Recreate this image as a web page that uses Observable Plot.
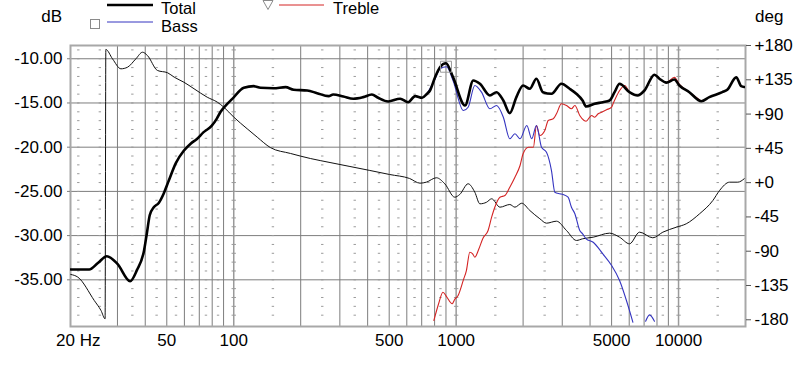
<!DOCTYPE html>
<html><head><meta charset="utf-8">
<script src="https://cdn.jsdelivr.net/npm/d3@7"></script>
<script src="https://cdn.jsdelivr.net/npm/@observablehq/plot@0.6"></script>
<style>
html,body{margin:0;padding:0;background:#fff;}
#wrap{position:relative;width:807px;height:372px;overflow:hidden;font-family:'Liberation Sans',Arial,sans-serif;}
#legend{position:absolute;left:0;top:0;pointer-events:none;}
</style></head><body><div id="wrap"></div>
<script>
// ---- data (frequency Hz, level dB) ----
const total = [[18.5,-33.83],[22.4,-33.83],[24.5,-33.1],[26.9,-32.33],[30,-33.2],[34.2,-35.16],[36.7,-33.9],[39.5,-31.7],[40.7,-29.7],[41.9,-27.7],[43.7,-26.8],[46,-26.3],[48.5,-25.2],[51,-23.8],[54.9,-21.8],[59.6,-20.4],[64,-19.6],[68.1,-19.1],[73.2,-18.3],[79.5,-17.6],[83.8,-16.8],[87.3,-16.0],[93.5,-15.1],[98,-14.6],[111,-13.28],[123,-13.1],[132,-13.28],[151,-13.33],[171,-13.21],[186,-13.51],[214,-13.59],[237,-13.89],[267,-14.23],[280,-14.04],[311,-14.26],[345,-14.52],[382,-14.34],[418,-14.04],[446,-14.41],[495,-14.83],[560,-14.52],[608,-14.91],[654,-14.23],[703,-14.41],[740,-13.96],[763,-13.59],[804,-12.08],[846,-10.95],[900,-10.5],[968,-12.08],[1096,-15.28],[1194,-12.45],[1279,-12.83],[1418,-14.15],[1519,-13.78],[1630,-14.72],[1743,-16.15],[1866,-14.34],[2000,-13.02],[2143,-13.39],[2296,-12.26],[2455,-13.78],[2683,-13.96],[2974,-12.83],[3239,-13.39],[3470,-13.96],[3703,-14.72],[3840,-15.4],[4193,-15.09],[4565,-14.91],[4896,-14.72],[5156,-13.78],[5430,-12.83],[6020,-13.78],[6539,-14.15],[7026,-13.59],[7792,-11.8],[8204,-12.26],[8820,-12.7],[9580,-12.35],[10088,-13.02],[11184,-13.78],[12659,-14.8],[13752,-14.34],[15726,-13.78],[16558,-13.5],[18168,-12.1],[19132,-13.1],[19734,-13.2]];

const bassMain = [[740,-13.96],[804,-12.3],[846,-11.13],[905,-10.9],[968,-12.45],[1078,-15.85],[1132,-15.48],[1213,-13.02],[1300,-13.78],[1418,-15.66],[1519,-15.28],[1630,-16.61],[1743,-19.05],[1838,-18.48],[1938,-19.05],[2078,-17.55],[2187,-19.05],[2296,-17.55],[2420,-20.0],[2548,-20.57],[2683,-22.64],[2778,-25.09],[2922,-25.27],[3026,-25.35],[3186,-25.66],[3300,-26.79],[3418,-27.53],[3596,-29.42],[3703,-29.8],[3840,-30.36],[4132,-30.75],[4565,-32.06],[5000,-33.38],[5430,-35.08],[5830,-37.34],[6234,-39.8]];
const bassTail = [[7112,-39.68],[7406,-38.96],[7792,-39.68]];

const treble = [[794,-39.6],[834,-37.71],[872,-36.4],[905,-36.9],[960,-37.71],[986,-37.2],[1019,-36.8],[1078,-35.0],[1112,-33.95],[1152,-31.88],[1186,-32.06],[1213,-32.44],[1266,-31.49],[1320,-30.3],[1392,-29.42],[1444,-27.92],[1492,-26.79],[1574,-25.66],[1657,-25.46],[1743,-24.52],[1838,-23.39],[1938,-22.07],[2000,-20.75],[2112,-20.0],[2225,-20.0],[2296,-17.55],[2378,-18.68],[2504,-18.11],[2594,-16.98],[2732,-16.79],[2826,-16.22],[2974,-15.09],[3134,-15.28],[3300,-15.66],[3418,-15.28],[3596,-16.41],[3760,-16.98],[3840,-17.06],[4066,-16.41],[4193,-16.61],[4352,-16.22],[4508,-16.04],[4744,-15.77],[5000,-15.48],[5077,-15.09],[5376,-13.78],[5732,-13.02],[6020,-13.78],[6539,-14.15],[7026,-13.59],[7792,-11.8],[8204,-12.26],[8820,-12.7],[9580,-12.1],[10088,-12.9],[11184,-13.78],[12659,-14.8]];

// phase (frequency Hz, degrees)
const phase = [[18.5,-120.5],[19.9,-124],[23.6,-154.7],[25.3,-167.8],[26.4,-178.7],[26.6,174.8],[28.5,162.5],[31.1,149.4],[33.3,151.5],[36.3,162.5],[38.9,171.2],[40.9,166.9],[45.4,147.2],[50.4,144.2],[54,138.4],[59.7,131.8],[66.3,123.2],[76,112.1],[84.4,105.6],[90.3,99],[100.1,85.9],[114.9,70.7],[127.5,59.7],[146,46.1],[180,38.3],[221,31.7],[271,26.4],[333,21.2],[409,16],[502,10.7],[617,5.5],[688,-0.7],[734,0.6],[815,6.4],[889,-1.5],[986,-19.1],[1038,-15.5],[1132,-1.5],[1213,-12.5],[1279,-27.8],[1370,-25.7],[1444,-21.2],[1574,-32.2],[1743,-28.7],[1838,-32.2],[1972,-27],[2143,-36.5],[2378,-47.4],[2548,-53.2],[2826,-50.6],[3134,-62.8],[3476,-75.9],[3703,-73.7],[4132,-71.6],[4896,-66.3],[5430,-71.6],[6020,-80.3],[6680,-65],[7660,-72.4],[8500,-65],[9770,-58.5],[10830,-54],[12430,-40.9],[14270,-23.4],[15290,-10.3],[16960,0.6],[18470,0.6],[19734,5.1]];

const bassMarker = [[900,-10.9]];

// ---- ticks / grid ----
const xTicks = [20,50,100,500,1000,5000,10000];
const xTickLabels = ["20 Hz","50","100","500","1000","5000","10000"];
const dbTicks = [-10,-15,-20,-25,-30,-35];
const degTicks = [180,135,90,45,0,-45,-90,-135,-180];
const degTickLabels = ["+180","+135","+90","+45","+0","-45","-90","-135","-180"];
const solidGrid = [30,40,50,60,70,80,90,200,300,400,500,600,700,800,900,2000,3000,4000,5000,6000,7000,8000,9000];
const decadeGrid = [100,1000,10000];
const dottedGrid = [20,25,35,45,55,65,75,85,150,250,350,450,550,650,750,850,1500,2500,3500,4500,5500,6500,7500,8500,15000];

// ---- scales ----
const yTop = -8.5, yBottom = -40.28;
const degSpan = 31.02; // dB-equivalent of 360 degrees on the right axis
const degToDb = d => yTop + (d - 180) / 360 * degSpan;

const dashLevels = d3.range(-39, -8);
const dashPts = d3.cross(dottedGrid, dashLevels);
const decDashPts = d3.cross(decadeGrid, dashLevels);
const dashSym = {draw(ctx){ctx.moveTo(-1.2,0);ctx.lineTo(1.2,0);}};
const wideDashSym = {draw(ctx){ctx.moveTo(-2.2,0);ctx.lineTo(2.2,0);}};

const xTickData = xTicks.map((t,i)=>({f: t, label: xTickLabels[i]}));
const degVals = degTicks.map(degToDb);
const degLabel = new Map(degVals.map((v,i)=>[v,degTickLabels[i]]));

const FX = d => d[0], FY = d => d[1], FP = d => degToDb(d[1]);

const chart = Plot.plot({
  width: 807, height: 372,
  marginLeft: 70, marginRight: 62, marginTop: 45, marginBottom: 46,
  style: {fontFamily: "'Liberation Sans', Arial, sans-serif", fontSize: "17px", color: "#000", background: "#fff"},
  x: {type: "log", domain: [18.45, 20000], axis: null},
  y: {domain: [yBottom, yTop]},
  marks: [
    Plot.ruleX(solidGrid, {stroke: "#7d7d7d", strokeWidth: 1}),
    Plot.ruleX(decadeGrid, {stroke: "#9a9a9a", strokeWidth: 1.5}),
    Plot.ruleY(dbTicks, {stroke: "#7d7d7d", strokeWidth: 1}),
    Plot.dot(dashPts, {x: d=>d[0], y: d=>d[1], symbol: dashSym, stroke: "#9a9a9a", fill: "none", strokeWidth: 1}),
    Plot.dot(decDashPts, {x: d=>d[0], y: d=>d[1], symbol: wideDashSym, stroke: "#9a9a9a", fill: "none", strokeWidth: 1}),
    Plot.frame({stroke: "#a8a8a8", strokeWidth: 2}),
    Plot.line(phase, {x: FX, y: FP, stroke: "#111", strokeWidth: 1, curve: "monotone-x", clip: true}),
    Plot.line(treble, {x: FX, y: FY, stroke: "#d42424", strokeWidth: 1.1, curve: "monotone-x", clip: true}),
    Plot.line(bassMain, {x: FX, y: FY, stroke: "#3535c0", strokeWidth: 1.1, curve: "monotone-x", clip: true}),
    Plot.line(bassTail, {x: FX, y: FY, stroke: "#3535c0", strokeWidth: 1.1, curve: "monotone-x", clip: true}),
    Plot.line(total, {x: FX, y: FY, stroke: "#000", strokeWidth: 2.6, curve: "monotone-x", clip: true, strokeLinejoin: "round"}),
    Plot.dot(bassMarker, {x: FX, y: FY, symbol: "square", r: 6.2, stroke: "#9a9a9a", fill: "none", strokeWidth: 1}),
    Plot.text(xTickData, {x: "f", text: "label", frameAnchor: "bottom", lineAnchor: "top", dy: 7, fontSize: 17, fill: "#000"}),
    Plot.axisY(dbTicks, {anchor: "left", tickSize: 3, tickPadding: 5, stroke: "#7d7d7d", tickFormat: d => d.toFixed(2), label: null, fontSize: 17}),
    Plot.axisY(degVals, {anchor: "right", tickSize: 5, tickPadding: 4, stroke: "#555", tickFormat: d => degLabel.get(d), label: null, fontSize: 17})
  ]
});
const wrap = document.getElementById("wrap");
wrap.appendChild(chart);

// legend & axis titles overlay
const legend = `
<svg id="legend" width="807" height="45" xmlns="http://www.w3.org/2000/svg" font-family="'Liberation Sans', Arial, sans-serif" font-size="16.5">
  <line x1="107" x2="153" y1="5" y2="5" stroke="#000" stroke-width="2.5"/>
  <text x="161" y="13.5">Total</text>
  <polygon points="263,0.5 273,0.5 268,9.5" fill="none" stroke="#8a8a8a" stroke-width="1"/>
  <line x1="279" x2="324" y1="5" y2="5" stroke="#d42424" stroke-width="1"/>
  <text x="333" y="13.5">Treble</text>
  <rect x="90.5" y="19.5" width="9" height="9" fill="none" stroke="#8a8a8a" stroke-width="1"/>
  <line x1="107" x2="153" y1="22" y2="22" stroke="#3535c0" stroke-width="1"/>
  <text x="161" y="31.8">Bass</text>
  <text x="62" y="21.5" text-anchor="end" font-size="17">dB</text>
  <text x="755" y="21.5" font-size="17">deg</text>
</svg>`;
wrap.insertAdjacentHTML("beforeend", legend);
</script>
</body></html>
